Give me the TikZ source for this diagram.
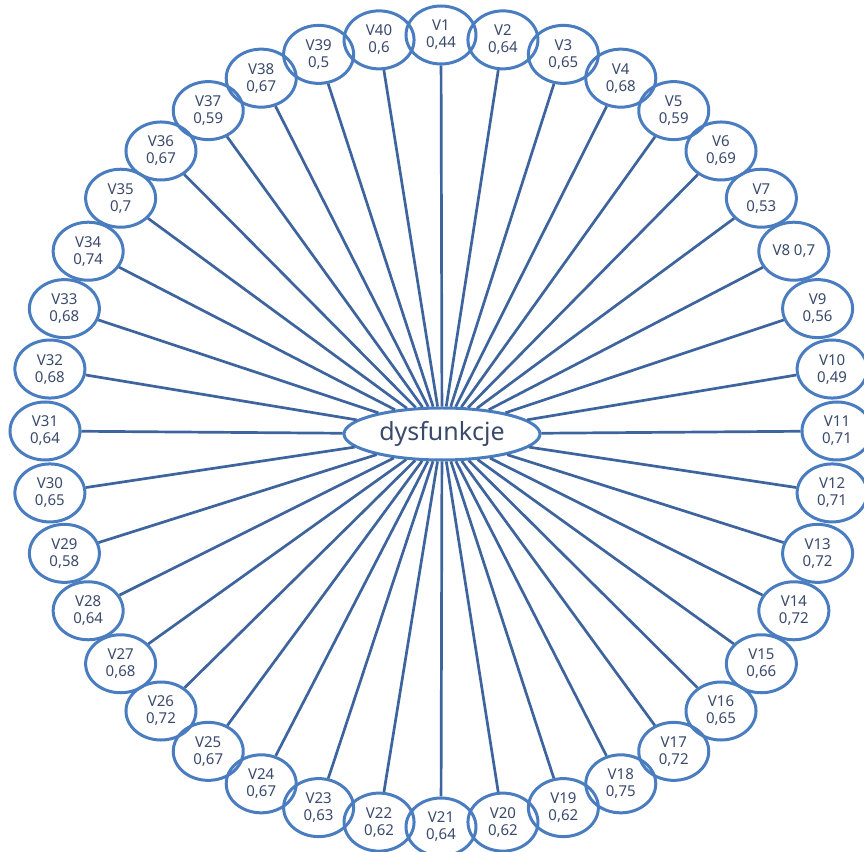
\documentclass[tikz,border=0pt]{standalone}
\usepackage{fontspec}
\setmainfont{Noto Sans}
\usetikzlibrary{shapes.geometric}
\definecolor{ringblue}{RGB}{74,124,192}
\definecolor{spoke}{RGB}{62,100,158}
\definecolor{labeltext}{RGB}{58,74,108}

\begin{document}
\begin{tikzpicture}[x=0.5pt,y=0.5pt,
  var/.style={ellipse,draw=ringblue,line width=1.5pt,minimum width=35pt,minimum height=29pt,inner sep=0pt,align=center,font=\fontsize{7.5}{8.5}\selectfont,text=labeltext},
  hub/.style={ellipse,draw=ringblue,line width=1.5pt,minimum width=98pt,minimum height=26pt,inner sep=0pt,font=\fontsize{12.5}{14}\selectfont,text=labeltext},
  spokeline/.style={draw=spoke,line width=1.35pt}]
\useasboundingbox (0,0) rectangle (864,852);
\node[hub] (hub) at (442,418) {dysfunkcje};
% 40 variables round the hub, V1 on top, clockwise
\foreach \val [count=\i] in {{0,44},{0,64},{0,65},{0,68},{0,59},{0,69},{0,53},{0,7},{0,56},{0,49},
                              {0,71},{0,71},{0,72},{0,72},{0,66},{0,65},{0,72},{0,75},{0,62},{0,62},
                              {0,64},{0,62},{0,63},{0,67},{0,67},{0,72},{0,68},{0,64},{0,58},{0,65},
                              {0,64},{0,68},{0,68},{0,74},{0,7},{0,67},{0,59},{0,67},{0,5},{0,6}}{
  \pgfmathsetmacro{\ang}{90-(\i-1)*9}
  \ifnum\i=8 \def\lab{V8 0,7}\else \def\lab{V\i\\\val}\fi
  \node[var] (v\i) at ([shift={(\ang:396)}]441,421) {\lab};
  \draw[spokeline] (hub) -- (v\i);
}
\end{tikzpicture}
\end{document}
